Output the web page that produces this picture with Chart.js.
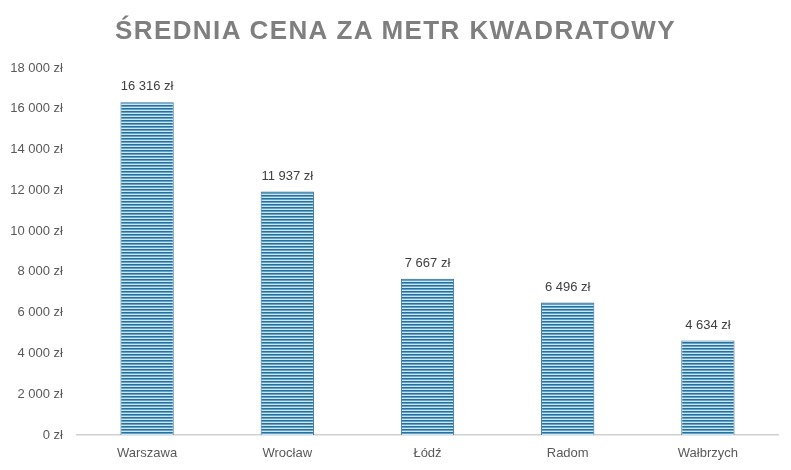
<!DOCTYPE html>
<html>
<head>
<meta charset="utf-8">
<script src="https://cdn.jsdelivr.net/npm/chart.js@4"></script>
<style>
  html, body { margin: 0; padding: 0; background: #fff; }
  #wrap { position: relative; width: 791px; height: 470px; }
  #title {
    position: absolute; left: 0; top: 15px; width: 791px; text-align: center;
    font: bold 26px "Liberation Sans", Arial, sans-serif; letter-spacing: 1.4px;
    color: #7f7f7f;
  }
</style>
</head>
<body>
<div id="wrap">
  <div id="title">ŚREDNIA CENA ZA METR KWADRATOWY</div>
  <canvas id="c" width="791" height="470"></canvas>
</div>
<script>
// data
const cities = ['Warszawa', 'Wrocław', 'Łódź', 'Radom', 'Wałbrzych'];
const pricePerM2 = [16316, 11937, 7667, 6496, 4634];
const yMax = 18000;
const yStep = 2000;

const fmt = v => String(v).replace(/\B(?=(\d{3})+(?!\d))/g, ' ') + ' zł';
const FONT = '"Liberation Sans", Arial, sans-serif';

// striped bar fill
function stripes() {
  const p = document.createElement('canvas');
  p.width = 4; p.height = 3;
  const g = p.getContext('2d');
  g.fillStyle = '#2a6f98'; g.fillRect(0, 0, 4, 1);
  g.fillStyle = '#5da3cb'; g.fillRect(0, 1, 4, 1);
  g.fillStyle = '#cfe6f2'; g.fillRect(0, 2, 4, 1);
  return g.createPattern(p, 'repeat');
}

const valueLabels = {
  id: 'valueLabels',
  afterDatasetsDraw(chart) {
    const ctx = chart.ctx;
    const meta = chart.getDatasetMeta(0);
    ctx.save();
    ctx.font = '13px ' + FONT;
    ctx.fillStyle = '#404040';
    ctx.textAlign = 'center';
    ctx.textBaseline = 'bottom';
    meta.data.forEach((bar, i) => {
      ctx.fillText(fmt(pricePerM2[i]), bar.x, bar.y - 9);
    });
    ctx.restore();
  }
};

new Chart(document.getElementById('c'), {
  type: 'bar',
  data: {
    labels: cities,
    datasets: [{
      data: pricePerM2,
      backgroundColor: stripes(),
      borderColor: '#2f7098',
      borderWidth: 1,
      categoryPercentage: 1,
      barPercentage: 0.38
    }]
  },
  options: {
    responsive: false,
    animation: false,
    layout: { padding: { top: 68, left: 7, right: 13, bottom: 0 } },
    plugins: { legend: { display: false }, tooltip: { enabled: false } },
    scales: {
      x: {
        grid: { display: false, drawTicks: false },
        border: { color: '#d0d0d0', width: 1.5 },
        ticks: { color: '#595959', font: { size: 13, family: FONT }, padding: 11 },
        afterFit: s => { s.height = 35; }
      },
      y: {
        min: 0, max: yMax,
        grid: { display: false, drawTicks: false },
        border: { display: false },
        ticks: { stepSize: yStep, color: '#595959', padding: 14,
                 font: { size: 13, family: FONT },
                 callback: v => fmt(v) },
        afterFit: s => { s.width = 70; }
      }
    }
  },
  plugins: [valueLabels]
});
</script>
</body>
</html>
